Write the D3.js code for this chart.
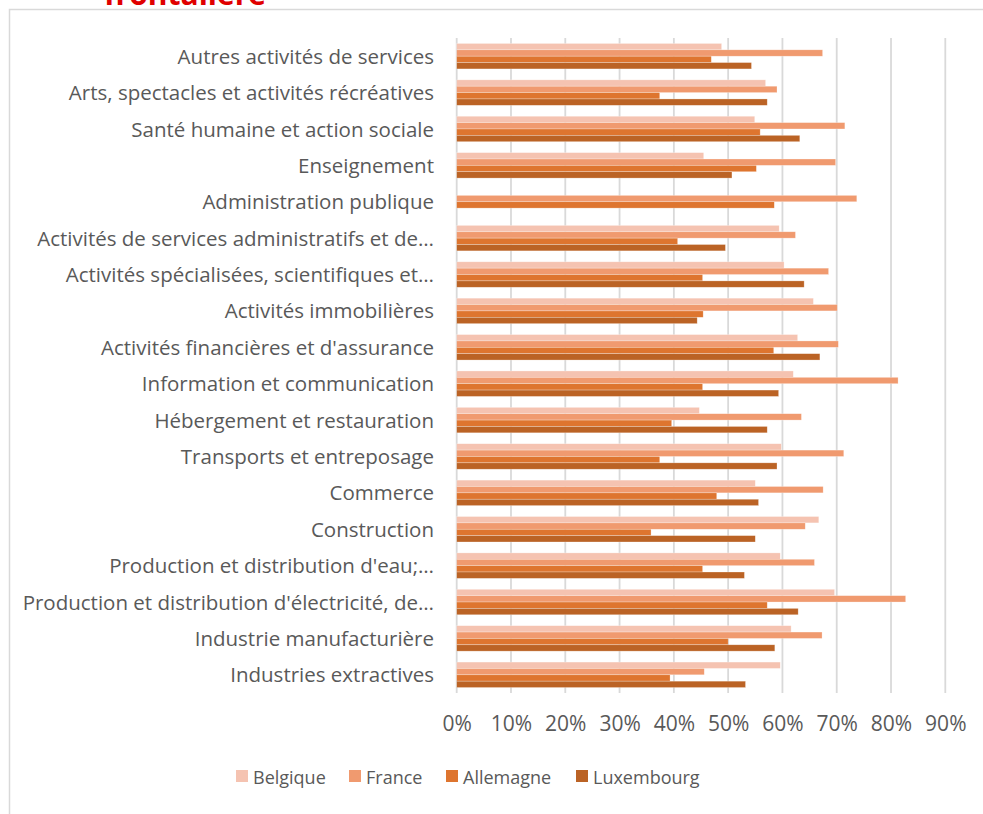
<!DOCTYPE html>
<html>
<head>
<meta charset="utf-8">
<script src="https://cdn.jsdelivr.net/npm/d3@7"></script>
<style>
  body { margin: 0; background: #fff; }
  svg { display: block; font-family: "Open Sans", sans-serif; }
</style>
</head>
<body>
<svg width="983" height="814"></svg>
<script>
// secteurs, du haut vers le bas
var categories = [
  "Autres activités de services",
  "Arts, spectacles et activités récréatives",
  "Santé humaine et action sociale",
  "Enseignement",
  "Administration publique",
  "Activités de services administratifs et de…",
  "Activités spécialisées, scientifiques et…",
  "Activités immobilières",
  "Activités financières et d'assurance",
  "Information et communication",
  "Hébergement et restauration",
  "Transports et entreposage",
  "Commerce",
  "Construction",
  "Production et distribution d'eau;…",
  "Production et distribution d'électricité, de…",
  "Industrie manufacturière",
  "Industries extractives"
];
var belgique   = [48.8, 56.9, 54.9, 45.5, null, 59.4, 60.3, 65.7, 62.8, 62.0, 44.7, 59.8, 55.0, 66.7, 59.6, 69.6, 61.6, 59.6];
var france     = [67.4, 59.0, 71.5, 69.8, 73.7, 62.4, 68.5, 70.1, 70.3, 81.3, 63.5, 71.3, 67.5, 64.2, 65.9, 82.7, 67.3, 45.6];
var allemagne  = [46.9, 37.4, 55.9, 55.2, 58.5, 40.7, 45.3, 45.4, 58.4, 45.3, 39.6, 37.4, 47.9, 35.8, 45.3, 57.2, 50.0, 39.3];
var luxembourg = [54.3, 57.2, 63.2, 50.7, null, 49.5, 64.0, 44.3, 66.9, 59.3, 57.2, 59.0, 55.6, 55.0, 53.0, 62.9, 58.6, 53.2];
var seriesNames = ["Belgique", "France", "Allemagne", "Luxembourg"];
var colors = ["#F5C3B1", "#F09A6F", "#DE752F", "#BB6325"];
var ticks = [0, 10, 20, 30, 40, 50, 60, 70, 80, 90];

var seriesValues = [belgique, france, allemagne, luxembourg];

var svg = d3.select("svg");
var textColor = "#595959";
var gridColor = "#D9D9D9";

// cadre du graphique
svg.append("rect")
  .attr("x", 9.5).attr("y", 9.5)
  .attr("width", 1000).attr("height", 900)
  .attr("fill", "none")
  .attr("stroke", gridColor)
  .attr("stroke-width", 1.5);

// titre coupé en haut
svg.append("text")
  .attr("x", 104).attr("y", 5)
  .attr("fill", "#E00000")
  .attr("font-size", 30)
  .attr("font-weight", "bold")
  .text("frontalière");

var x = d3.scaleLinear().domain([0, 90]).range([456.7, 945.3]);
var y = d3.scaleBand().domain(categories).range([38, 693])
  .paddingInner(0.3).paddingOuter(0.15);
var ySub = d3.scaleBand().domain(seriesNames).range([0, y.bandwidth()]);

// grille
svg.append("g")
  .selectAll("line")
  .data(ticks)
  .enter().append("line")
    .attr("x1", function(d) { return x(d); })
    .attr("x2", function(d) { return x(d); })
    .attr("y1", 38)
    .attr("y2", 693)
    .attr("stroke", gridColor)
    .attr("stroke-width", 1.8);

// barres
var groups = svg.append("g")
  .selectAll("g")
  .data(categories)
  .enter().append("g")
    .attr("transform", function(d) { return "translate(0," + y(d) + ")"; });

groups.selectAll("rect")
  .data(function(d, i) {
    return seriesNames.map(function(s, j) {
      return { serie: s, value: seriesValues[j][i], color: colors[j] };
    }).filter(function(o) { return o.value != null; });
  })
  .enter().append("rect")
    .attr("x", x(0))
    .attr("y", function(d) { return ySub(d.serie); })
    .attr("width", function(d) { return x(d.value) - x(0); })
    .attr("height", ySub.bandwidth())
    .attr("fill", function(d) { return d.color; })
    .attr("stroke", "#fff")
    .attr("stroke-opacity", 0.45)
    .attr("stroke-width", 0.6);

// axe vertical
var yAxis = d3.axisLeft(y).tickSize(0).tickPadding(0);
var gy = svg.append("g")
  .attr("transform", "translate(434,1)")
  .call(yAxis);
gy.select(".domain").remove();
gy.selectAll("text")
  .attr("fill", textColor)
  .attr("font-size", 20.5)
  .attr("font-family", "'Open Sans', sans-serif");

// axe horizontal
var xAxis = d3.axisBottom(x).tickValues(ticks).tickSize(0).tickPadding(0)
  .tickFormat(function(d) { return d + "%"; });
var gx = svg.append("g")
  .attr("transform", "translate(0,716.5)")
  .call(xAxis);
gx.select(".domain").remove();
gx.selectAll("text")
  .attr("fill", textColor)
  .attr("font-size", 21)
  .attr("font-family", "'Open Sans', sans-serif");

// légende
var legendX = [236, 349, 446, 576];
var legend = svg.append("g")
  .selectAll("g")
  .data(seriesNames)
  .enter().append("g")
    .attr("transform", function(d, i) { return "translate(" + legendX[i] + ",770)"; });
legend.append("rect")
  .attr("width", 12).attr("height", 12)
  .attr("fill", function(d, i) { return colors[i]; });
legend.append("text")
  .attr("x", 17).attr("y", 13.5)
  .attr("fill", textColor)
  .attr("font-size", 18)
  .text(function(d) { return d; });
</script>
</body>
</html>
